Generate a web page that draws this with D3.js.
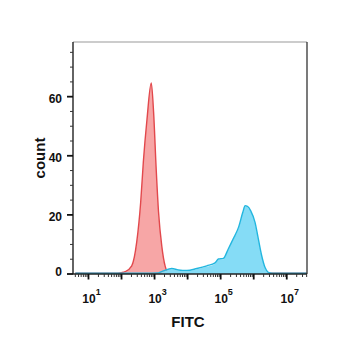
<!DOCTYPE html>
<html>
<head>
<meta charset="utf-8">
<script src="https://cdn.jsdelivr.net/npm/d3@7"></script>
<style>
  html, body { margin: 0; padding: 0; background: #fff; }
  svg { display: block; }
  text { font-family: "Liberation Sans", Arial, sans-serif; font-weight: bold; fill: #111; }
</style>
</head>
<body>
<svg id="chart" width="350" height="350"></svg>
<script>
// Unstained / isotype control histogram (red)
const controlFITC  = [4, 60, 100, 129, 204, 288, 380, 457, 589, 794, 933, 1122, 1318, 1660, 2089, 2570, 3981, 40000000];
const controlCount = [0, 0, 0.2, 0.5, 2.5, 10.5, 24, 37.6, 52, 64.4, 54.6, 35, 20.7, 9, 2.4, 0.3, 0, 0];

// Stained sample histogram (blue)
const stainedFITC  = [4, 500, 1300, 1862, 3311, 5248, 9550, 19055, 38019, 67608, 85114, 120226, 169824, 239883, 346737, 467735, 549541, 645654, 812831, 1096478, 1380384, 1737801, 2187762, 2754229, 3600000, 40000000];
const stainedCount = [0, 0, 0.1, 0.8, 1.6, 1.1, 0.9, 1.6, 2.5, 3.5, 4.8, 5, 8.2, 11.6, 15.5, 20.6, 22.8, 22.6, 21.1, 17.2, 11.6, 6, 2, 0.3, 0, 0];

// Axis ticks
const xMajorTicks = [10, 100, 1000, 10000, 100000, 1000000, 10000000];
const xLabelExps  = [1, 3, 5, 7];
const yMajorTicks = [0, 20, 40, 60];

const svg = d3.select("#chart");
const plotL = 73, plotR = 307, plotT = 42, plotB = 274;

const x = d3.scaleLog().domain([3.4, 41000000]).range([plotL, plotR]);
const y = d3.scaleLinear().domain([0, 78.5]).range([plotB, plotT]);

svg.append("clipPath").attr("id", "plotClip")
  .append("rect").attr("x", plotL).attr("y", plotT - 5).attr("width", plotR - plotL).attr("height", plotB - plotT + 5);

const plot = svg.append("g").attr("clip-path", "url(#plotClip)");

function drawHist(xs, ys, fill, stroke) {
  const pts = xs.map((v, i) => [v, ys[i]]);
  const area = d3.area().x(d => x(d[0])).y0(y(0)).y1(d => y(d[1])).curve(d3.curveMonotoneX);
  const line = d3.line().x(d => x(d[0])).y(d => y(d[1]) - 0.8).curve(d3.curveMonotoneX);
  plot.append("path").attr("d", area(pts)).attr("fill", fill);
  plot.append("path").attr("d", line(pts)).attr("fill", "none").attr("stroke", stroke).attr("stroke-width", 1.4);
}

drawHist(controlFITC, controlCount, "#f7a6a6", "#e2484c");
drawHist(stainedFITC, stainedCount, "#85dcf6", "#22b6df");

// Frame
svg.append("line").attr("x1", plotL).attr("x2", plotR).attr("y1", plotT).attr("y2", plotT)
  .attr("stroke", "#999").attr("stroke-width", 1.2);
svg.append("line").attr("x1", plotR).attr("x2", plotR).attr("y1", plotT).attr("y2", plotB)
  .attr("stroke", "#222").attr("stroke-width", 1.2);

// X axis
const xAxis = svg.append("g").attr("transform", `translate(0,${plotB})`);
xAxis.append("line").attr("x1", plotL).attr("x2", plotR).attr("stroke", "#222").attr("stroke-width", 1.4);
const xMinor = [];
for (let e = 0; e <= 7; e++) {
  for (let m = 2; m <= 9; m++) {
    const v = m * Math.pow(10, e);
    if (v >= x.domain()[0] && v <= x.domain()[1]) xMinor.push(v);
  }
}
xAxis.selectAll(".xminor").data(xMinor).join("line")
  .attr("x1", d => x(d)).attr("x2", d => x(d)).attr("y1", 0).attr("y2", 3)
  .attr("stroke", "#333").attr("stroke-width", 1);
xAxis.selectAll(".xmajor").data(xMajorTicks).join("line")
  .attr("x1", d => x(d)).attr("x2", d => x(d)).attr("y1", 0).attr("y2", 5.5)
  .attr("stroke", "#111").attr("stroke-width", 1.8);
const xl = xAxis.selectAll(".xlab").data(xLabelExps).join("text")
  .attr("x", d => x(Math.pow(10, d)) + 3).attr("y", 29).attr("text-anchor", "middle")
  .style("font-size", "12px");
xl.append("tspan").text("10");
xl.append("tspan").attr("dy", -8).style("font-size", "9px").text(d => d);

// Y axis
const yAxis = svg.append("g").attr("transform", `translate(${plotL},0)`);
yAxis.append("line").attr("y1", plotT).attr("y2", plotB).attr("stroke", "#222").attr("stroke-width", 1.4);
yAxis.selectAll(".yminor").data(d3.range(5, 80, 5).filter(v => v % 20 !== 0)).join("line")
  .attr("x1", -3).attr("x2", 0).attr("y1", d => y(d)).attr("y2", d => y(d))
  .attr("stroke", "#333").attr("stroke-width", 1);
yAxis.selectAll(".ymajor").data(yMajorTicks).join("line")
  .attr("x1", -6).attr("x2", 0).attr("y1", d => y(d)).attr("y2", d => y(d))
  .attr("stroke", "#111").attr("stroke-width", 1.8);
yAxis.selectAll(".ylab").data(yMajorTicks).join("text")
  .attr("x", -11).attr("y", d => y(d) + (d === 0 ? 1.5 : 6)).attr("text-anchor", "end")
  .style("font-size", "12px").text(d => d);

// Axis titles
svg.append("text").attr("x", 188).attr("y", 327).attr("text-anchor", "middle")
  .style("font-size", "15px").text("FITC");
svg.append("text").attr("transform", "translate(45,158) rotate(-90)").attr("text-anchor", "middle")
  .style("font-size", "15px").text("count");
</script>
</body>
</html>
